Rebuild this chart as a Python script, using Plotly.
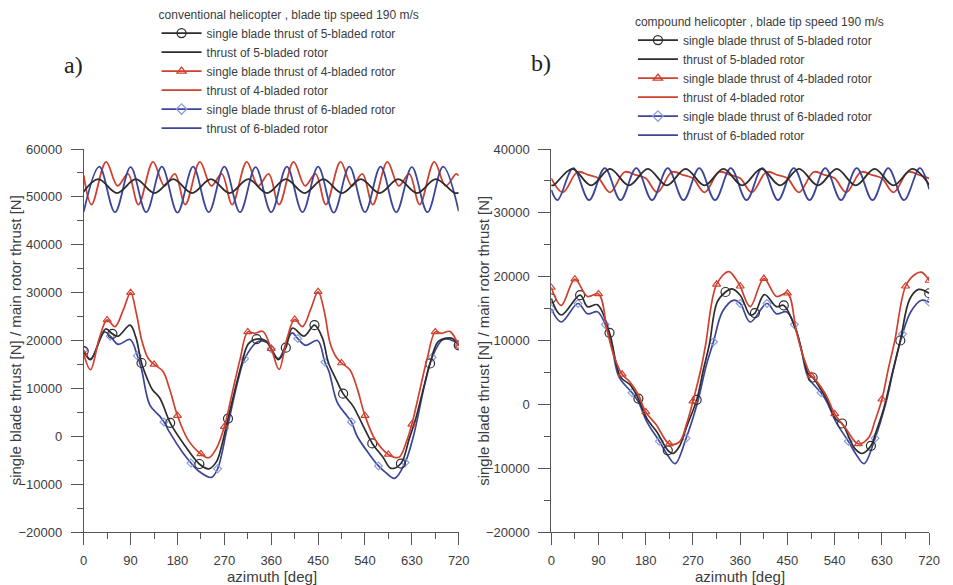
import plotly.graph_objects as go

# ---------------- DATA ----------------
# Panel a) conventional helicopter
# main rotor thrust, upper curves
TH5_CONV_X = [0, 28, 64, 100, 136, 172, 208, 244, 280, 316, 352, 388, 424, 460, 496, 532, 568, 604, 640, 676, 712, 720]
TH5_CONV_Y = [51100, 53700, 50800, 53700, 50800, 53700, 50800, 53700, 50800, 53700, 50800, 53700, 50800, 53700, 50800,
              53700, 50800, 53700, 50800, 53700, 50800, 50900]
TH4_CONV_X = [0, 15, 43, 65, 85, 105, 133, 155, 175, 195, 223, 245, 265, 285, 313, 335, 355, 375, 403, 425, 445, 465,
              493, 515, 535, 555, 583, 605, 625, 645, 673, 695, 715, 720]
TH4_CONV_Y = [54500, 48400, 57300, 52300, 54800, 48400, 57300, 52300, 54800, 48400, 57300, 52300, 54800, 48400, 57300,
              52300, 54800, 48400, 57300, 52300, 54800, 48400, 57300, 52300, 54800, 48400, 57300, 52300, 54800, 48400,
              57300, 52300, 54800, 54400]
TH6_CONV_X = [0, 30, 60, 90, 120, 150, 180, 210, 240, 270, 300, 330, 360, 390, 420, 450, 480, 510, 540, 570, 600, 630,
              660, 690, 720]
TH6_CONV_Y = [46900, 56300, 46800, 56200, 46800, 56300, 46700, 56300, 46800, 56300, 46800, 56200, 46800, 56300, 46800,
              56300, 46700, 56300, 46800, 56300, 46800, 56200, 46800, 56300, 47000]

# single blade thrust, lower curves
SB5_CONV_X = [0, 13, 42, 55, 66, 89, 100, 111, 122, 132, 146, 166, 190, 222, 240, 255, 266, 277, 290, 303, 316, 332,
              350, 360, 374, 388, 401, 423, 443, 458, 470, 484, 498, 517, 535, 554, 574, 590, 609, 625, 637, 650, 665,
              681, 706, 720]
SB5_CONV_Y = [17800, 16000, 22400, 21400, 20900, 23200, 20700, 15300, 12000, 9700, 8000, 2800, -1300, -5800, -6800,
              -5300, -1500, 3700, 9500, 15000, 19300, 20300, 19900, 18200, 16000, 18500, 22600, 20900, 23200, 20600,
              15300, 12000, 8900, 6300, 2500, -1500, -4300, -6700, -5700, -500, 3500, 9000, 15200, 19800, 20500, 19000]
SB4_CONV_X = [0, 13, 30, 45, 60, 76, 90, 101, 111, 123, 135, 152, 165, 180, 200, 225, 240, 255, 270, 285, 300, 315,
              328, 344, 360, 375, 390, 405, 420, 436, 450, 462, 473, 485, 495, 511, 525, 540, 560, 585, 605, 620, 630,
              645, 660, 675, 687, 703, 720]
SB4_CONV_Y = [17200, 13900, 20500, 24300, 22900, 26400, 30000, 25700, 20200, 16400, 15000, 13600, 9800, 4300, -700,
              -3700, -4500, -2500, 2000, 9000, 16000, 21800, 21500, 21900, 18300, 13950, 20300, 24400, 22900, 26600,
              30200, 26000, 19500, 16500, 15300, 13900, 10000, 4300, -800, -3800, -4400, -1000, 2500, 9500, 16500,
              21800, 21500, 21900, 18800]
SB6_CONV_X = [0, 13, 40, 51, 66, 89, 103, 111, 127, 146, 154, 165, 190, 206, 220, 245, 257, 275, 297, 309, 335, 353,
              360, 374, 400, 411, 426, 449, 463, 471, 487, 506, 514, 525, 550, 566, 580, 597, 617, 633, 655, 669, 690,
              712, 720]
SB6_CONV_Y = [18000, 16100, 21800, 20900, 19200, 20200, 16800, 14000, 6500, 4200, 3000, 800, -3400, -5600, -7200,
              -8600, -6800, 1500, 12000, 16200, 19800, 19500, 18300, 16200, 21600, 20400, 19000, 20000, 15500, 13500,
              7000, 4200, 3000, 0, -4000, -6200, -7600, -8800, -5500, 0, 11000, 16500, 20200, 19800, 19000]

# Panel b) compound helicopter
TH5_COMP_X = [0, 4, 40, 76, 112, 148, 184, 220, 256, 292, 328, 364, 400, 436, 472, 508, 544, 580, 616, 652, 688, 720]
TH5_COMP_Y = [34350, 34300, 36900, 34300, 36900, 34300, 36900, 34300, 36900, 34300, 36900, 34300, 36900, 34300, 36900,
              34300, 36900, 34300, 36900, 34300, 36900, 34400]
TH4_COMP_X = [0, 22, 50, 72, 90, 112, 140, 162, 180, 202, 230, 252, 270, 292, 320, 342, 360, 382, 410, 432, 450, 472,
              500, 522, 540, 562, 590, 612, 630, 652, 680, 702, 720]
TH4_COMP_Y = [35400, 33200, 36400, 35900, 35400, 33200, 36400, 35900, 35400, 33200, 36400, 35900, 35400, 33200, 36400,
              35900, 35400, 33200, 36400, 35900, 35400, 33200, 36400, 35900, 35400, 33200, 36400, 35900, 35400, 33200,
              36400, 35900, 35400]
TH6_COMP_X = [0, 12, 42, 72, 102, 132, 162, 192, 222, 252, 282, 312, 342, 372, 402, 432, 462, 492, 522, 552, 582, 612,
              642, 672, 702, 720]
TH6_COMP_Y = [33600, 32000, 37000, 32000, 37000, 32000, 37000, 32000, 37000, 32000, 37000, 32000, 37000, 32000, 37000,
              32000, 37000, 32000, 37000, 32000, 37000, 32000, 37000, 32000, 37000, 33700]

SB5_COMP_X = [0, 19, 55, 69, 88, 111, 132, 151, 166, 182, 201, 222, 232, 244, 258, 277, 290, 301, 316, 332, 344, 360,
              379, 388, 406, 429, 443, 467, 490, 498, 510, 525, 542, 554, 578, 592, 609, 618, 634, 650, 665, 683, 700,
              720]
SB5_COMP_Y = [16600, 14000, 17100, 15300, 15600, 11200, 4300, 3000, 900, -2200, -4300, -7200, -7700, -6600, -3500, 700,
              5500, 9300, 16000, 17600, 18100, 17100, 14000, 14300, 17200, 15300, 15500, 11400, 4700, 4200, 2800, 800,
              -2300, -3000, -6900, -7700, -6500, -4500, -500, 5000, 10000, 16500, 18000, 17400]
SB4_COMP_X = [0, 19, 45, 69, 90, 107, 119, 135, 150, 166, 180, 200, 225, 244, 258, 270, 285, 294, 315, 338, 352, 360,
              379, 405, 429, 450, 467, 480, 495, 504, 523, 540, 561, 585, 604, 617, 630, 642, 654, 675, 692, 705, 720]
SB4_COMP_Y = [18300, 15500, 19600, 16900, 17300, 11400, 7700, 4700, 3500, 1500, -1200, -3200, -6200, -5900, -3000, 500,
              5500, 9300, 18800, 20800, 19600, 18500, 15300, 19700, 16900, 17400, 11400, 7500, 4500, 3800, 1500, -1500,
              -3800, -6200, -5300, -2500, 800, 5500, 9800, 18500, 20300, 20700, 19400]
SB6_COMP_X = [0, 19, 51, 69, 88, 103, 116, 129, 154, 166, 182, 206, 222, 236, 257, 279, 295, 309, 326, 347, 360, 379,
              411, 429, 448, 463, 476, 489, 514, 525, 542, 566, 582, 596, 617, 638, 652, 669, 685, 705, 720]
SB6_COMP_Y = [15000, 12900, 15800, 14200, 14500, 12500, 8800, 4300, 1800, 400, -2700, -5800, -8000, -9300, -5300, 400,
              6000, 9800, 14500, 16300, 15800, 12900, 15800, 14200, 14500, 12500, 8800, 4300, 1800, 400, -2700, -5800,
              -8000, -9300, -5300, 400, 5500, 11000, 14500, 16300, 16000]

# azimuths where the symbols of the single blade curves sit
MARK5 = [0, 55, 111, 166, 222, 277, 332, 388, 443, 498, 554, 609, 665, 720]
MARK4 = [0, 45, 90, 135, 180, 225, 270, 315, 360, 405, 450, 495, 540, 585, 630, 675, 720]
MARK6 = [0, 51, 103, 154, 206, 257, 309, 360, 411, 463, 514, 566, 617, 669, 720]

X_TICKS = [0, 90, 180, 270, 360, 450, 540, 630, 720]
LEGEND_NAMES = ["single blade thrust of 5-bladed rotor", "thrust of 5-bladed rotor",
                "single blade thrust of 4-bladed rotor", "thrust of 4-bladed rotor",
                "single blade thrust of 6-bladed rotor", "thrust of 6-bladed rotor"]

# ---------------- STYLE ----------------
BLACK = "#2d2d2d"
RED = "#d0402f"
BLUE = "#3b4699"
BLUE_M = "#8a9be0"
FONT = "Liberation Sans, Arial, sans-serif"
TXT = "#3c3c3c"

fig = go.Figure()


def lower(x, y, marks, color, mcolor, symbol, msize, xa, ya):
    sizes = [msize if v in marks else 0 for v in x]
    ops = [1 if v in marks else 0 for v in x]
    fig.add_trace(go.Scatter(
        x=x, y=y, mode="lines+markers", showlegend=False, xaxis=xa, yaxis=ya,
        line=dict(color=color, width=1.7, shape="spline", smoothing=1.0),
        marker=dict(symbol=symbol, size=sizes, opacity=ops, color=mcolor, line=dict(width=1.2, color=mcolor)),
        hoverinfo="x+y"))


def upper(x, y, color, xa, ya):
    fig.add_trace(go.Scatter(
        x=x, y=y, mode="lines", showlegend=False, xaxis=xa, yaxis=ya,
        line=dict(color=color, width=1.8, shape="spline", smoothing=1.0)))


def legend_entries(leg, xa, ya):
    specs = [(BLACK, BLACK, "circle-open", 9, True), (BLACK, None, None, 0, False),
             (RED, RED, "triangle-up-open", 8, True), (RED, None, None, 0, False),
             (BLUE, BLUE_M, "diamond-open", 8, True), (BLUE, None, None, 0, False)]
    for name, (lc, mc, sym, ms, hasm) in zip(LEGEND_NAMES, specs):
        kw = dict(x=[None], y=[None], name=name, legend=leg, xaxis=xa, yaxis=ya,
                  line=dict(color=lc, width=1.7))
        if hasm:
            kw["mode"] = "lines+markers"
            kw["marker"] = dict(symbol=sym, size=ms, color=mc, line=dict(width=1.3, color=mc))
        else:
            kw["mode"] = "lines"
        fig.add_trace(go.Scatter(**kw))


# panel a
legend_entries("legend", "x", "y")
upper(TH4_CONV_X, TH4_CONV_Y, RED, "x", "y")
upper(TH6_CONV_X, TH6_CONV_Y, BLUE, "x", "y")
upper(TH5_CONV_X, TH5_CONV_Y, BLACK, "x", "y")
lower(SB6_CONV_X, SB6_CONV_Y, MARK6, BLUE, BLUE_M, "diamond-open", 6, "x", "y")
lower(SB5_CONV_X, SB5_CONV_Y, MARK5, BLACK, BLACK, "circle-open", 9, "x", "y")
lower(SB4_CONV_X, SB4_CONV_Y, MARK4, RED, RED, "triangle-up-open", 7, "x", "y")

# panel b
legend_entries("legend2", "x2", "y2")
upper(TH4_COMP_X, TH4_COMP_Y, RED, "x2", "y2")
upper(TH6_COMP_X, TH6_COMP_Y, BLUE, "x2", "y2")
upper(TH5_COMP_X, TH5_COMP_Y, BLACK, "x2", "y2")
lower(SB6_COMP_X, SB6_COMP_Y, MARK6, BLUE, BLUE_M, "diamond-open", 6, "x2", "y2")
lower(SB5_COMP_X, SB5_COMP_Y, MARK5, BLACK, BLACK, "circle-open", 9, "x2", "y2")
lower(SB4_COMP_X, SB4_COMP_Y, MARK4, RED, RED, "triangle-up-open", 7, "x2", "y2")

W, H = 953, 585
T, B = 149, 53
PH = H - T - B


def px_x(p):
    return p / W


def px_y(p):
    return 1 + (T - p) / PH


axis_common = dict(showline=True, linecolor="#555555", linewidth=1, ticks="outside", ticklen=12, tickwidth=1,
                   tickcolor="#555555", showgrid=False, zeroline=False,
                   tickfont=dict(family=FONT, size=13, color=TXT))
xminor = dict(ticks="outside", ticklen=6, dtick=45, tick0=0, tickcolor="#555555")
yminor = dict(ticks="outside", ticklen=6, dtick=5000, tickcolor="#555555")

fig.update_layout(
    width=W, height=H, margin=dict(l=0, r=0, t=T, b=B),
    paper_bgcolor="white", plot_bgcolor="white",
    font=dict(family=FONT, color=TXT),
    xaxis=dict(domain=[px_x(81), px_x(462)], anchor="y", range=[0, 720], tickvals=X_TICKS,
               ticklabelstandoff=4, minor=xminor, **axis_common),
    yaxis=dict(domain=[0, 1], anchor="x", range=[-20000, 60000], dtick=10000, tickformat="d",
               ticklabelstandoff=6, minor=yminor, **axis_common),
    xaxis2=dict(domain=[px_x(556), px_x(940)], anchor="y2", range=[0, 720], tickvals=X_TICKS,
                ticklabelstandoff=4, minor=xminor, **axis_common),
    yaxis2=dict(domain=[0, 1], anchor="x2", range=[-20000, 40000], dtick=10000, tickformat="d",
                ticklabelstandoff=6, minor=yminor, **axis_common),
    legend=dict(x=px_x(155), y=px_y(3), xanchor="left", yanchor="top", bgcolor="rgba(0,0,0,0)",
                font=dict(family=FONT, size=12, color=TXT), tracegroupgap=0, itemwidth=40,
                title=dict(text="conventional helicopter , blade tip speed 190 m/s",
                           font=dict(family=FONT, size=12, color=TXT))),
    legend2=dict(x=px_x(639), y=px_y(10), xanchor="left", yanchor="top", bgcolor="rgba(0,0,0,0)",
                 font=dict(family=FONT, size=12, color=TXT), tracegroupgap=0, itemwidth=40,
                 title=dict(text="compound helicopter , blade tip speed 190 m/s",
                            font=dict(family=FONT, size=12, color=TXT))),
    annotations=[
        dict(text="a)", x=px_x(71), y=px_y(65), xref="paper", yref="paper", showarrow=False,
             xanchor="center", yanchor="middle",
             font=dict(family="Liberation Serif, DejaVu Serif, serif", size=24, color="#222222")),
        dict(text="b)", x=px_x(546), y=px_y(63), xref="paper", yref="paper", showarrow=False,
             xanchor="center", yanchor="middle",
             font=dict(family="Liberation Serif, DejaVu Serif, serif", size=24, color="#222222")),
        dict(text="single blade thrust [N] / main rotor thrust [N]", x=px_x(12), y=0.5, xref="paper",
             yref="paper", textangle=-90, showarrow=False, xanchor="center", yanchor="middle",
             font=dict(family=FONT, size=15, color=TXT)),
        dict(text="single blade thrust [N] / main rotor thrust [N]", x=px_x(487), y=0.5, xref="paper",
             yref="paper", textangle=-90, showarrow=False, xanchor="center", yanchor="middle",
             font=dict(family=FONT, size=15, color=TXT)),
        dict(text="azimuth [deg]", x=px_x(272), y=px_y(576), xref="paper", yref="paper", showarrow=False,
             xanchor="center", yanchor="middle", font=dict(family=FONT, size=15, color=TXT)),
        dict(text="azimuth [deg]", x=px_x(748), y=px_y(576), xref="paper", yref="paper", showarrow=False,
             xanchor="center", yanchor="middle", font=dict(family=FONT, size=15, color=TXT)),
    ],
)

fig.write_html("out.html")
